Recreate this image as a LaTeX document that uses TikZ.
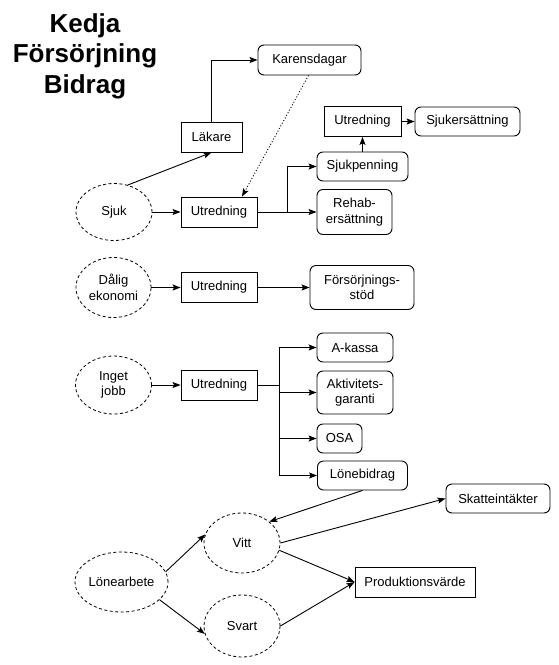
\documentclass[tikz,border=0pt]{standalone}
\usepackage{fontspec}
\setmainfont{Liberation Sans}
\usetikzlibrary{shapes.geometric,arrows.meta}
\begin{document}
\begin{tikzpicture}[x=1pt,y=-1pt,
  font=\fontsize{13}{15.5}\selectfont,
  every node/.style={inner sep=0pt,align=center},
  rbox/.style={draw,line width=0.9pt,rounded corners=6pt},
  sbox/.style={draw,line width=0.9pt},
  oval/.style={draw,ellipse,dashed,dash pattern=on 3pt off 2.5pt,line width=0.8pt},
  conn/.style={line width=0.9pt,-{Stealth[length=8pt,width=6pt,inset=1.5pt]}},
  dotconn/.style={line width=0.9pt,dash pattern=on 1pt off 2pt,-{Stealth[length=8pt,width=6pt,inset=1.5pt]}},
  ttl/.style={font=\fontsize{26}{30}\selectfont\bfseries,anchor=base}
]
\useasboundingbox (0,0) rectangle (559,665);
% title
\node[ttl] (t1) at (85,32) {Kedja};
\node[ttl] (t2) at (85,62) {Försörjning};
\node[ttl] (t3) at (85,93) {Bidrag};
% Sjuk chain
\node[rbox,minimum width=103,minimum height=30] (karens) at (309.5,60) {Karensdagar};
\node[sbox,minimum width=61,minimum height=30] (lakare) at (211.5,137) {Läkare};
\node[oval,minimum width=76,minimum height=57] (sjuk) at (114,212) {Sjuk};
\node[sbox,minimum width=76,minimum height=30] (utr1) at (219,212) {Utredning};
\node[sbox,minimum width=77,minimum height=30] (utrA) at (362.5,121.5) {Utredning};
\node[rbox,minimum width=105,minimum height=29] (sjukers) at (467.5,121.5) {Sjukersättning};
\node[rbox,minimum width=91,minimum height=29] (sjukp) at (362.5,166.5) {Sjukpenning};
\node[rbox,minimum width=75,minimum height=45] (rehab) at (354.5,212) {Rehab-\\ersättning};
% Dålig ekonomi
\node[oval,minimum width=75,minimum height=60] (dalig) at (113.5,287.5) {Dålig\\ekonomi};
\node[sbox,minimum width=76,minimum height=30] (utr2) at (219,287.5) {Utredning};
\node[rbox,minimum width=104,minimum height=44] (forsorj) at (362,287.5) {Försörjnings-\\stöd};
% Inget jobb
\node[oval,minimum width=76,minimum height=58] (inget) at (113.5,385) {Inget\\jobb};
\node[sbox,minimum width=76,minimum height=30] (utr3) at (219,385) {Utredning};
\node[rbox,minimum width=76,minimum height=29] (akassa) at (355,347.5) {A-kassa};
\node[rbox,minimum width=76,minimum height=43] (aktiv) at (355,392.5) {Aktivitets-\\garanti};
\node[rbox,minimum width=45,minimum height=29] (osa) at (339.5,438.5) {OSA};
\node[rbox,minimum width=90,minimum height=29] (loneb) at (362.5,475.5) {Lönebidrag};
% Lönearbete
\node[rbox,minimum width=104,minimum height=29] (skatt) at (498,498.5) {Skatteintäkter};
\node[oval,minimum width=76,minimum height=60] (vitt) at (242,543) {Vitt};
\node[oval,minimum width=76,minimum height=62] (svart) at (242,626) {Svart};
\node[oval,minimum width=75,minimum height=60] (lonearb) at (121.5,582) {Lönearbete};
\node[sbox,minimum width=120,minimum height=30] (prod) at (415,582) {Produktionsvärde};
% connectors: Sjuk
\draw[conn] (sjuk.63) -- (lakare.south);
\draw[conn] (lakare.north) |- (karens.west);
\draw[dotconn] ([xshift=-1pt]karens.south) -- ([xshift=23pt]utr1.north);
\draw[conn] (sjuk.east) -- (utr1.west);
\coordinate (b1) at (287,212);
\draw[line width=0.9pt] (utr1.east) -- (b1);
\draw[conn] (b1) |- (sjukp.west);
\draw[conn] (b1) -- (rehab.west);
\draw[conn] (sjukp.north) -- (utrA.south);
\draw[conn] (utrA.east) -- (sjukers.west);
% Dålig ekonomi
\draw[conn] (dalig.east) -- (utr2.west);
\draw[conn] (utr2.east) -- (forsorj.west);
% Inget jobb
\draw[conn] (inget.east) -- (utr3.west);
\coordinate (b2) at (279,385);
\draw[line width=0.9pt] (utr3.east) -- (b2);
\draw[conn] (b2) |- (akassa.west);
\draw[conn] (b2) |- (aktiv.west);
\draw[conn] (b2) |- (osa.west);
\draw[conn] (b2) |- (loneb.west);
% Lönearbete
\draw[conn] (loneb.south) -- (vitt.38);
\draw[conn] (vitt.east) -- (skatt.west);
\draw[conn] (vitt.-11) -- (prod.west);
\draw[conn] (svart.east) -- (prod.west);
\draw[conn] (lonearb.13) -- (vitt.167);
\draw[conn] (lonearb.-25) -- (svart.192);
\end{tikzpicture}
\end{document}
